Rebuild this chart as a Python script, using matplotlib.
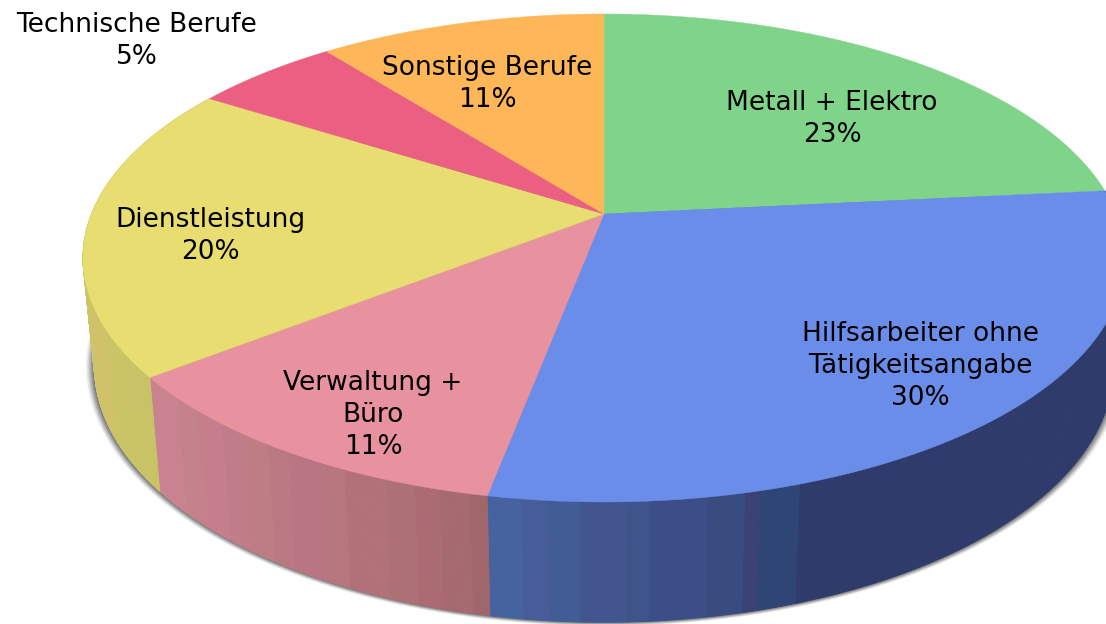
import numpy as np
import matplotlib
matplotlib.use('Agg')
import matplotlib.pyplot as plt
from matplotlib.collections import PolyCollection

labels = ['Metall + Elektro', 'Hilfsarbeiter ohne\nTätigkeitsangabe', 'Verwaltung +\nBüro',
          'Dienstleistung', 'Technische Berufe', 'Sonstige Berufe']
values = [23.4, 29.6, 11.44, 19.56, 5.4, 10.6]
top_colors = ['#7fd48a', '#6b8dea', '#e892a0', '#e7dd70', '#eb6082', '#fdb658']

label_x = [832, 920, 373, 210, 137, 487]
label_y = [119, 366, 415, 236, 41, 84]

# side wall bands, left edge in pixels then colour
blue_edges = [487, 525, 552, 582, 630, 650, 708, 745, 760, 802]
blue_bands = ['#46629f', '#475c9a', '#425c96', '#42558f', '#3e548a', '#3b4e88', '#394c80',
              '#3a4276', '#2f4576', '#2f3c6b']
pink_edges = [149, 178, 196, 222, 243, 268, 288, 325, 345, 386, 415, 440, 470]
pink_bands = ['#c98290', '#c4838c', '#c67f8d', '#c17d8a', '#be7e84', '#bb7a84', '#bb7684',
              '#b7787e', '#b3727a', '#ae7076', '#ac6b74', '#a66a70', '#a1666c']
yellow_edges = [80, 106]
yellow_bands = ['#cfc268', '#c9c466']

cx, cy = 604, 258          # centre of top rim ellipse
rx, ry = 521, 244
k = 44 / 244               # perspective: apex sits above ellipse centre
scale_x, scale_y, drop = 0.978, 1.05, 108


def rim(theta):
    # theta clockwise from top, perspective circle -> ellipse
    x, y = np.sin(theta), np.cos(theta)
    w = 1 + k * y
    return rx * np.sqrt(1 - k * k) * x / w, (ry * y + 44) / w


def bottom(px, py):
    return scale_x * px, scale_y * py - drop


def band_color(x, edges, bands):
    i = np.searchsorted(edges, x, side='right') - 1
    return bands[max(i, 0)]


fig = plt.figure(figsize=(11.06, 6.24), dpi=100)
ax = fig.add_axes([0, 0, 1, 1])
ax.set_xlim(0, 1106)
ax.set_ylim(624, 0)
ax.axis('off')

# soft shadow under the pie
t = np.linspace(0, 2 * np.pi, 400)
for d in np.arange(9, 0, -0.5):
    ax.fill(cx + (rx * scale_x + d) * np.cos(t),
            cy + drop + (ry * scale_y + 0.45 * d) * np.sin(t),
            color='#404040', alpha=0.02 + 0.011 * (9 - d), lw=0, zorder=1)

starts = np.cumsum([0] + values[:-1]) / 100 * 2 * np.pi
ends = np.cumsum(values) / 100 * 2 * np.pi

# side walls
walls = {1: (blue_edges, blue_bands), 2: (pink_edges, pink_bands), 3: (yellow_edges, yellow_bands)}
for i, (edges, bands) in walls.items():
    th = np.linspace(starts[i], ends[i], 300)
    px, py = rim(th)
    bx, by = bottom(px, py)
    polys, cols = [], []
    for j in range(len(th) - 1):
        polys.append([(cx + px[j], cy - py[j]), (cx + px[j + 1], cy - py[j + 1]),
                      (cx + bx[j + 1], cy - by[j + 1]), (cx + bx[j], cy - by[j])])
        cols.append(band_color(cx + px[j], edges, bands))
    ax.add_collection(PolyCollection(polys, facecolors=cols, edgecolors=cols, linewidths=0.6, zorder=2))

# top faces
for i in range(len(values)):
    th = np.linspace(starts[i], ends[i], 200)
    px, py = rim(th)
    xs = np.r_[0, px] + cx
    ys = cy - np.r_[44, py]
    ax.fill(xs, ys, color=top_colors[i], lw=0.3, zorder=3)

for name, v, x, y in zip(labels, values, label_x, label_y):
    ax.text(x, y, f'{name}\n{round(v)}%', ha='center', va='center', fontsize=19,
            family='DejaVu Sans', color='black', linespacing=1.31, zorder=4)

fig.savefig('out.png', dpi=100)
